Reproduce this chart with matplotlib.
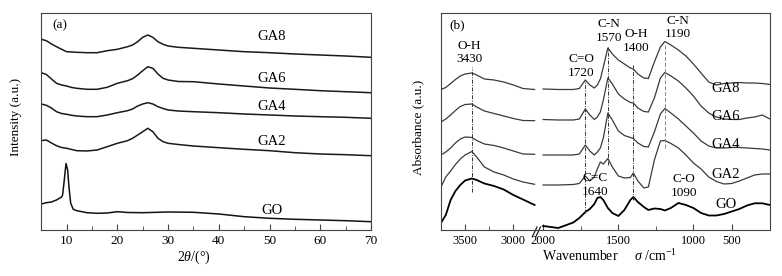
import numpy as np
import matplotlib
matplotlib.use("Agg")
import matplotlib.pyplot as plt
from matplotlib.ticker import FixedLocator, NullFormatter

plt.rcParams['font.family'] = ['Liberation Serif', 'DejaVu Serif']
plt.rcParams['mathtext.fontset'] = 'custom'
plt.rcParams['mathtext.rm'] = 'Liberation Serif'
plt.rcParams['mathtext.it'] = 'Liberation Serif:italic'

# ---- (a) XRD ----
two_theta = [5, 6, 7, 8, 9, 10, 11, 12, 14, 16, 18, 20, 22, 23, 24, 25, 26, 27, 28, 29, 30, 32, 35, 40, 45, 50, 55, 60, 65, 70]
xrd_ga8 = [190.7, 189.3, 186, 183.3, 180.7, 178.3, 178, 177.7, 177.3, 177.3, 179.3, 180.7, 183.3, 185, 188.3, 192.7, 195, 192.7, 188.3, 185.7, 184, 182.7, 181.7, 180, 178.3, 177.3, 176, 175, 174, 172.7]
xrd_ga6 = [157.3, 155.5, 151, 146.7, 145, 144, 142.5, 141.7, 140.7, 140.7, 142.7, 146.7, 149.3, 151.3, 155, 159.3, 163.3, 161.7, 156, 151.7, 150, 148.5, 148.3, 146, 144, 142, 140.7, 139.3, 138.3, 137.3]
xrd_ga4 = [126, 124.7, 122, 118.3, 116.5, 115.7, 114.7, 114, 113.3, 113.3, 115, 117.3, 119.3, 121, 124, 126, 127.3, 126, 123.3, 121.5, 120, 119, 118.3, 117.3, 116, 115, 114, 113.3, 112.7, 111.7]
xrd_ga2 = [89.3, 90, 87, 84.3, 82.5, 81.7, 80.5, 79.3, 79, 80, 83.3, 86.7, 89.3, 91.7, 95, 98.3, 101.7, 98.3, 91.7, 88.3, 86.7, 85.5, 84, 82.3, 80.7, 79.3, 77.3, 76, 75.3, 74.3]
go_theta = [5, 6, 7, 8, 8.5, 9, 9.2, 9.5, 9.87, 10.2, 10.45, 10.8, 11.3, 12, 14, 16, 18, 20, 22, 25, 30, 35, 40, 45, 50, 55, 60, 65, 70]
xrd_go = [26, 27.3, 28, 30, 31.5, 33, 35, 48.3, 66.5, 60, 43.3, 26.7, 20.7, 19.3, 17.3, 16.7, 17, 18.3, 17.5, 17.3, 18, 17.7, 16, 13.3, 11.7, 10.7, 10, 9.3, 8.3]
xrd_names = ['GA8', 'GA6', 'GA4', 'GA2', 'GO']
xrd_label_y = [193.3, 151, 123.3, 88.3, 19.3]

# ---- (b) FTIR, two segments either side of the axis break ----
wn_hi = [3750, 3700, 3650, 3600, 3550, 3500, 3430, 3380, 3300, 3200, 3100, 3000, 2900, 2780]
ir_hi = {
    'GA8': [140.5, 142.5, 146.5, 150.5, 154, 156, 157, 155, 151, 150, 148, 145, 141.5, 140.5],
    'GA6': [108, 111, 115, 119.5, 123.5, 125.5, 126, 123, 119, 116.5, 114, 111.5, 109.5, 109.3],
    'GA4': [75, 78, 82, 87, 91, 93, 92.5, 89.5, 86, 84.5, 82, 79, 76, 75.7],
    'GA2': [43, 53, 59, 65.5, 71, 75, 78.5, 73, 63, 58, 55, 51, 48, 45.7],
    'GO': [7, 15, 30, 39, 45, 49.5, 51.5, 50, 46.5, 44, 40.5, 35, 30.5, 25],
}
wn_lo = [2020, 1900, 1800, 1760, 1720, 1690, 1660, 1640, 1620, 1600, 1570, 1540, 1500, 1460, 1420, 1400, 1370, 1330, 1300,
         1260, 1220, 1190, 1150, 1100, 1050, 1000, 900, 800, 700, 600, 500, 400, 300, 200, 100, 0]
ir_lo = {
    'GA8': [141, 140.5, 140.5, 141.5, 150, 145, 142, 145, 151, 163, 182, 176, 170, 166, 162, 161, 156, 152, 151.5,
            168, 183, 188.5, 185, 180, 174, 166, 157, 148, 145, 146.5, 147, 147.5, 147, 147, 146.5, 145.5],
    'GA6': [110.5, 110, 110, 111, 121, 115, 110.5, 113, 118, 130, 152, 146, 136, 131, 127.5, 127, 122, 118.5, 118,
            132, 152, 157.5, 154, 149, 142, 134, 124, 117, 113, 111, 110.5, 110.5, 112, 113, 115, 111],
    'GA4': [75, 75, 75, 76, 85, 79, 75, 78, 82, 92, 117, 110, 99, 94.5, 92.5, 91.5, 87, 83.5, 83,
            98, 116, 121.5, 117, 111, 104, 97, 89, 84, 82, 82, 82.5, 82.5, 82, 81.5, 81, 80],
    'GA2': [45, 45, 45.5, 46.5, 54, 49, 53, 61, 68, 66, 71.5, 63, 54, 52, 52.5, 57, 49, 42, 43,
            70, 89, 89.5, 86.5, 82, 75, 67, 61, 53, 48.5, 46, 46.5, 49, 52, 55, 56, 56],
    'GO': [4, 2, 7.5, 12, 18, 21, 26, 32, 33, 30, 22, 17, 14, 20, 30, 33, 28, 23, 20,
           21.5, 21, 19.5, 22, 27, 25, 22, 17, 14.5, 14.5, 16, 18.5, 21, 24.5, 26.7, 26.7, 25],
}
ir_label_y = [141.7, 113.3, 85, 55.7, 25]

# assigned bands: wavenumber, line top, line bottom
band_wn = [3430, 1720, 1570, 1400, 1190]
band_top = [163, 150, 183, 165, 185]
band_bot = [38, 17, 65, 30, 82]
band_text = [('O-H\n3430', 3455, 177.5), ('C=O\n1720', 1748, 164), ('C-N\n1570', 1560, 199),
             ('O-H\n1400', 1382, 189), ('C-N\n1190', 1105, 202.5), ('C=C\n1640', 1655, 45),
             ('C-O\n1090', 1065, 44)]

# piecewise axis: wavenumber -> distance from right edge (broken, non-linear instrument axis)
seg_wn = [0, 1000, 2000, 2780, 3750]
seg_pos = [0, 76.6, 226.8, 235.5, 329.2]


def fwd(w):
    return np.interp(w, seg_wn, seg_pos)


def inv(p):
    return np.interp(p, seg_pos, seg_wn)


fig = plt.figure(figsize=(7.82, 2.76), dpi=100)
ax1 = fig.add_axes([0.0528, 0.1667, 0.4216, 0.7851])
ax2 = fig.add_axes([0.5639, 0.1667, 0.4207, 0.7851])

for ax in (ax1, ax2):
    for s in ax.spines.values():
        s.set_linewidth(0.8)
        s.set_color('#444444')
    ax.set_yticks([])
    ax.tick_params(axis='x', which='both', direction='in', top=False, color='#444444')
    ax.tick_params(axis='x', which='major', length=4, labelsize=9.5, pad=3.5)
    ax.tick_params(axis='x', which='minor', length=3)

# panel a
for name, y, ly in zip(xrd_names[:4], [xrd_ga8, xrd_ga6, xrd_ga4, xrd_ga2], xrd_label_y):
    ax1.plot(two_theta, y, color='#1a1a1a', lw=1.1)
    ax1.text(50.4, ly, name, ha='center', va='center', fontsize=10.5)
ax1.plot(go_theta, xrd_go, color='#111111', lw=1.1)
ax1.text(50.4, xrd_label_y[4], 'GO', ha='center', va='center', fontsize=10.5)
ax1.set_xlim(5, 70)
ax1.set_ylim(0, 216.7)
ax1.set_xticks([10, 20, 30, 40, 50, 60, 70])
ax1.xaxis.set_minor_locator(FixedLocator([15, 25, 35, 45, 55, 65]))
ax1.set_xlabel(r'2$\theta$/(°)', fontsize=10)
ax1.xaxis.set_label_coords(0.462, -0.085)
ax1.set_ylabel('Intensity (a.u.)', fontsize=9.5)
ax1.yaxis.set_label_coords(-0.0594, 0.523)
ax1.text(0.056, 0.945, '(a)', transform=ax1.transAxes, ha='center', va='center', fontsize=9.5)

# panel b
ax2.set_xscale('function', functions=(fwd, inv))
for name, ly in zip(xrd_names, ir_label_y):
    c = '#000000' if name == 'GO' else '#3a3a3a'
    lw = 1.3 if name == 'GO' else 0.9
    ax2.plot(wn_hi, ir_hi[name], color=c, lw=lw)
    ax2.plot(wn_lo, ir_lo[name], color=c, lw=lw)
    ax2.text(574, ly, name, ha='center', va='center', fontsize=10.5)
for w, t, b in zip(band_wn, band_top, band_bot):
    ls = (0, (4, 2)) if w == 1190 else (0, (4, 1.5, 1, 1.5))
    col = '#888888' if w == 1190 else '#333333'
    ax2.plot([w, w], [b, t], color=col, lw=0.7, ls=ls)
for txt, w, y in band_text:
    ax2.text(w, y, txt, ha='center', va='center', fontsize=9.5, linespacing=1.15)
ax2.set_xlim(3750, 0)
ax2.set_ylim(0, 216.7)
ax2.xaxis.set_major_locator(FixedLocator([3500, 3000, 2000, 1500, 1000, 500]))
ax2.xaxis.set_minor_locator(FixedLocator([3250, 1750, 1250]))
ax2.xaxis.set_minor_formatter(NullFormatter())
ax2.set_xticklabels(['3500', '3000', '2000', '1500', '1000', '500'])
ax2.tick_params(axis='x', which='major', labelsize=9)
ax2.set_xlabel('Wavenumber     $\\sigma$ /cm$^{-1}$', fontsize=10)
ax2.xaxis.set_label_coords(0.5116, -0.085)
ax2.set_ylabel('Absorbance (a.u.)', fontsize=9.5)
ax2.yaxis.set_label_coords(-0.0508, 0.473)
ax2.text(0.048, 0.945, '(b)', transform=ax2.transAxes, ha='center', va='center', fontsize=9.5)

# axis break marks
for dx in (0.0, 0.0106):
    ax2.plot([0.278 + dx, 0.292 + dx], [-0.030, 0.014], transform=ax2.transAxes,
             color='#222222', lw=0.9, clip_on=False)

fig.savefig('out.png', dpi=100)
